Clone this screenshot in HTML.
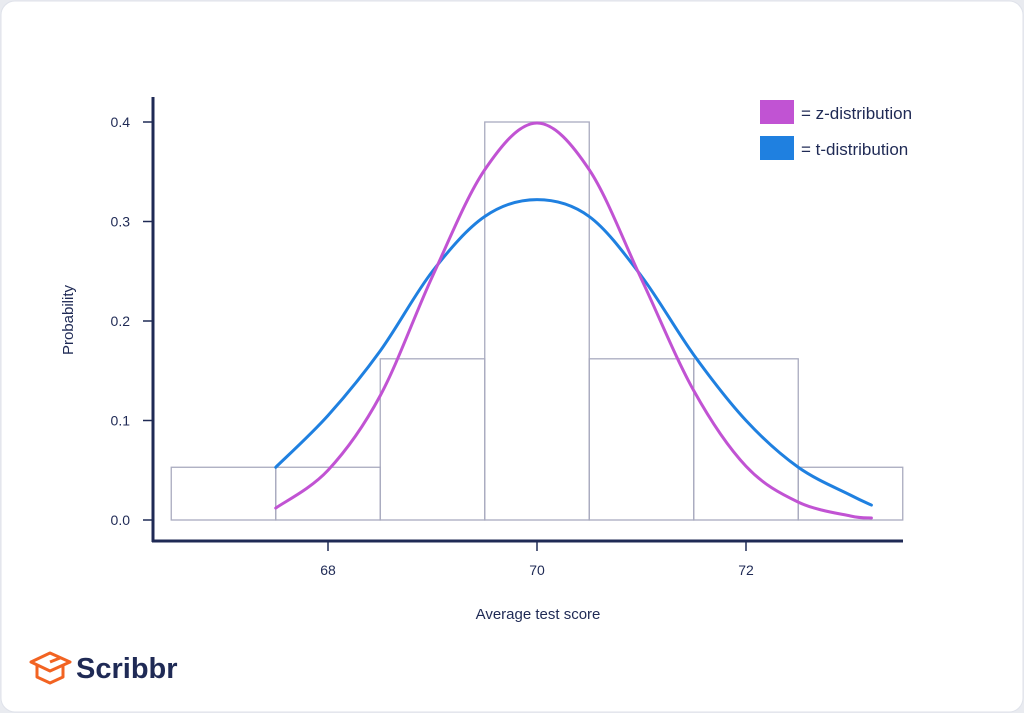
<!DOCTYPE html>
<html><head><meta charset="utf-8"><style>
body{margin:0;background:#e9ebf0;}
svg{display:block;font-family:"Liberation Sans",sans-serif;}
</style></head><body>
<svg id="chart" width="1024" height="713" viewBox="0 0 1024 713">
<rect x="1" y="1" width="1022" height="711" rx="14" fill="#ffffff" stroke="#dfe2ea"/>
<g id="bars"></g>
<g id="curves"></g>
<g id="axes"></g>
<g>
<rect x="760" y="100" width="34" height="24" fill="#c153d3"/>
<text x="801" y="119" font-size="17" fill="#1f2a55">= z-distribution</text>
<rect x="760" y="136" width="34" height="24" fill="#1f80e0"/>
<text x="801" y="155" font-size="17" fill="#1f2a55">= t-distribution</text>
</g>
<text x="538" y="619" font-size="15" text-anchor="middle" fill="#1f2a55">Average test score</text>
<text x="73" y="320" font-size="15" text-anchor="middle" fill="#1f2a55" transform="rotate(-90 73 320)">Probability</text>
<g>
<path d="M31 662 L50 653 L70 662 L50 671 Z M37 665 V677 L50 683 L63 677 V665 M50 662 L60 658" fill="none" stroke="#f26322" stroke-width="3" stroke-linejoin="round"/>
<text x="76" y="678" font-size="29" font-weight="bold" fill="#1f2a55">Scribbr</text>
</g>
</svg>
<script>
const binEdges=[66.5,67.5,68.5,69.5,70.5,71.5,72.5,73.5];
const binHeights=[0.053,0.053,0.162,0.4,0.162,0.162,0.053];
const curveX=[67.5,68,68.5,69,69.5,70,70.5,71,71.5,72,72.5,73,73.2];
const zValues=[0.012,0.05,0.125,0.245,0.352,0.399,0.352,0.242,0.13,0.054,0.018,0.004,0.002];
const tValues=[0.053,0.105,0.17,0.25,0.305,0.322,0.305,0.245,0.166,0.1,0.053,0.025,0.015];
const xTicks=[68,70,72];
const yTicks=[0,0.1,0.2,0.3,0.4];
const yTickLabels=["0.0","0.1","0.2","0.3","0.4"];
const NS="http://www.w3.org/2000/svg";
const xs=v=>328+(v-68)*104.5;
const ys=v=>520-v*995;
function mk(tag,attrs,parent){const e=document.createElementNS(NS,tag);for(const k in attrs)e.setAttribute(k,attrs[k]);parent.appendChild(e);return e;}
const bars=document.getElementById('bars');
binHeights.forEach((h,i)=>{
 const r=mk('rect',{x:xs(binEdges[i]),y:ys(h),width:xs(binEdges[i+1])-xs(binEdges[i]),height:ys(0)-ys(h),fill:'none',stroke:'#a9abbf','stroke-width':1.3},bars);
 
 
});
function smooth(xv,yv){
 const p=xv.map((x,i)=>[xs(x),ys(yv[i])]);
 let d=`M${p[0][0]},${p[0][1]}`;
 for(let i=0;i<p.length-1;i++){
  const p0=p[Math.max(0,i-1)],p1=p[i],p2=p[i+1],p3=p[Math.min(p.length-1,i+2)];
  const c1=[p1[0]+(p2[0]-p0[0])/6,p1[1]+(p2[1]-p0[1])/6];
  const c2=[p2[0]-(p3[0]-p1[0])/6,p2[1]-(p3[1]-p1[1])/6];
  d+=` C${c1[0]},${c1[1]} ${c2[0]},${c2[1]} ${p2[0]},${p2[1]}`;
 }
 return d;
}
const curves=document.getElementById('curves');
const tl=mk('path',{d:smooth(curveX,tValues),fill:'none',stroke:'#1f80e0','stroke-width':3,'stroke-linecap':'round'},curves);


const zl=mk('path',{d:smooth(curveX,zValues),fill:'none',stroke:'#c153d3','stroke-width':3,'stroke-linecap':'round'},curves);


const axes=document.getElementById('axes');
const ya=mk('line',{x1:153,y1:97,x2:153,y2:542,stroke:'#1f2a55','stroke-width':3},axes);


const xa=mk('line',{x1:152,y1:541,x2:903,y2:541,stroke:'#1f2a55','stroke-width':3},axes);


yTicks.forEach((v,i)=>{
 const t=mk('line',{x1:143,y1:ys(v),x2:153,y2:ys(v),stroke:'#1f2a55','stroke-width':1.5},axes);
 
 
 const l=mk('text',{x:130,y:ys(v)+5,'font-size':14,'text-anchor':'end',fill:'#1f2a55'},axes);
 l.textContent=yTickLabels[i];
 
 
});
xTicks.forEach(v=>{
 const t=mk('line',{x1:xs(v),y1:541,x2:xs(v),y2:551,stroke:'#1f2a55','stroke-width':1.5},axes);
 
 
 const l=mk('text',{x:xs(v),y:575,'font-size':14,'text-anchor':'middle',fill:'#1f2a55'},axes);
 l.textContent=String(v);
 
 
});
</script>
</body></html>
